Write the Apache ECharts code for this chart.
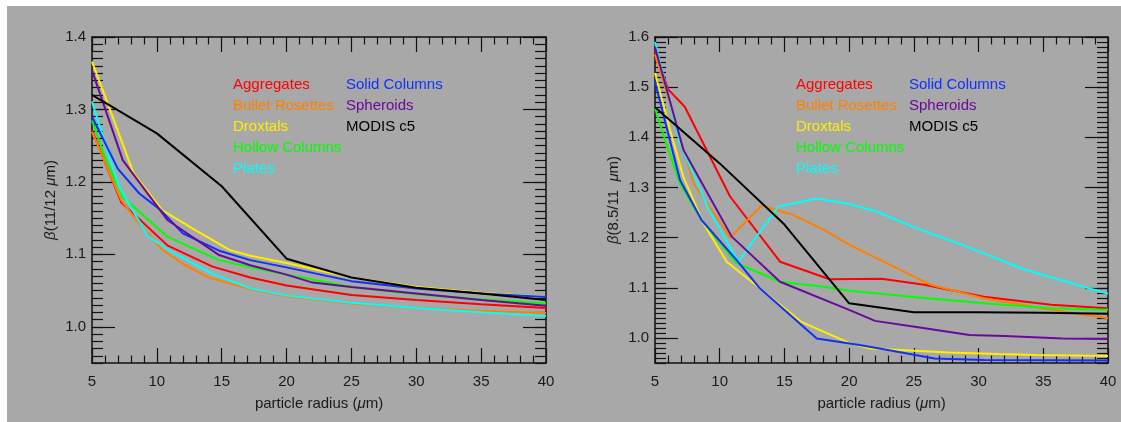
<!DOCTYPE html>
<html><head><meta charset="utf-8">
<script src="https://cdn.jsdelivr.net/npm/echarts@6/dist/echarts.min.js"></script>
<style>html,body{margin:0;padding:0;background:#fff;}#c{width:1121px;height:422px;}</style>
</head><body><div id="c"></div>
<script>
// ---------- data ----------
const seriesNames = ['Aggregates','Bullet Rosettes','Droxtals','Hollow Columns','Plates','Solid Columns','Spheroids','MODIS c5'];
const xTickValues = [5,10,15,20,25,30,35,40];
const yMajorLeft = [1.0,1.1,1.2,1.3,1.4];
const yMajorRight = [1.0,1.1,1.2,1.3,1.4,1.5,1.6];

// left panel: beta(11/12 um)
const L_aggregates = [[5,1.271],[7.25,1.172],[10.84,1.112],[14.3,1.083],[17.2,1.068],[20,1.057],[25,1.044],[30,1.037],[35,1.031],[40,1.026]];
const L_bullet = [[5,1.269],[7.25,1.175],[8.5,1.145],[10.45,1.106],[12,1.087],[14,1.068],[17.2,1.052],[20,1.042],[25,1.032],[30,1.026],[35,1.022],[40,1.019]];
const L_droxtals = [[5,1.366],[6.4,1.299],[8.2,1.212],[10.4,1.161],[13,1.133],[15.6,1.106],[17.2,1.098],[20,1.088],[25,1.068],[30,1.055],[35,1.047],[40,1.041]];
const L_hollow = [[5,1.285],[6,1.234],[7.37,1.179],[10.84,1.124],[14.8,1.092],[17.2,1.082],[20,1.072],[25,1.055],[30,1.045],[35,1.038],[40,1.032]];
const L_plates = [[5,1.311],[6.1,1.248],[7.1,1.193],[9.3,1.125],[11,1.105],[14.3,1.073],[17.2,1.053],[20,1.043],[25,1.033],[30,1.026],[35,1.020],[40,1.015]];
const L_solid = [[5,1.29],[7,1.218],[8.65,1.184],[10.3,1.161],[12,1.129],[14.8,1.105],[17.2,1.092],[20,1.082],[25,1.063],[30,1.053],[35,1.046],[40,1.041]];
const L_spheroids = [[5,1.354],[7.37,1.23],[10.84,1.147],[14.8,1.099],[17.2,1.085],[20,1.072],[22,1.061],[25,1.055],[30,1.046],[35,1.037],[40,1.029]];
const L_modis = [[5,1.320],[10,1.267],[15,1.194],[20,1.094],[25,1.068],[30,1.054],[35,1.046],[40,1.037]];

// right panel: beta(8.5/11 um)
const R_aggregates = [[5,1.572],[6,1.496],[7.3,1.461],[10.8,1.282],[14.66,1.152],[18.5,1.117],[22.5,1.118],[25.8,1.106],[30.4,1.082],[35.6,1.066],[40,1.059]];
const R_bullet = [[5,1.565],[8,1.308],[10.8,1.200],[13.24,1.264],[15.7,1.245],[18.1,1.215],[20,1.186],[23.2,1.145],[26.3,1.106],[30.4,1.079],[35.6,1.056],[40,1.039]];
const R_droxtals = [[5,1.528],[6.16,1.415],[7.19,1.321],[8.73,1.229],[10.54,1.152],[13.1,1.099],[16.3,1.032],[20,0.990],[21.6,0.979],[23.9,0.976],[27.7,0.971],[31.6,0.968],[34.4,0.966],[40,0.964]];
const R_hollow = [[5,1.458],[5.77,1.395],[6.93,1.308],[8.6,1.235],[11.31,1.149],[14.66,1.112],[18,1.102],[20,1.094],[25.2,1.081],[30.4,1.069],[35.6,1.059],[40,1.056]];
const R_plates = [[5,1.59],[6.93,1.388],[9.18,1.255],[11.44,1.152],[14.53,1.262],[17.5,1.278],[20,1.267],[22.1,1.252],[25.2,1.219],[29.1,1.182],[33.5,1.137],[38.1,1.102],[40,1.088]];
const R_solid = [[5,1.511],[6.93,1.315],[8.6,1.235],[11.31,1.155],[13.1,1.099],[17.5,0.999],[20.8,0.986],[23.2,0.975],[26.6,0.959],[30.4,0.956],[40,0.955]];
const R_spheroids = [[5,1.58],[7.19,1.375],[10.93,1.202],[14.66,1.112],[20,1.056],[22,1.034],[25.2,1.022],[29.3,1.006],[32,1.004],[36.5,0.999],[40,0.998]];
const R_modis = [[5,1.46],[10,1.348],[15,1.226],[20,1.069],[25,1.051],[30,1.051],[35,1.050],[40,1.048]];

const leftData = [L_aggregates,L_bullet,L_droxtals,L_hollow,L_plates,L_solid,L_spheroids,L_modis];
const rightData = [R_aggregates,R_bullet,R_droxtals,R_hollow,R_plates,R_solid,R_spheroids,R_modis];

// ---------- style ----------
const colors = ['#ff0000','#ff8000','#ffee00','#00ff00','#00ffff','#1030ff','#6a0a9a','#000000'];
const FONT = "'Liberation Sans', Arial, sans-serif";
const AX = '#111';

function xAxes(gridIndex) {
  const base = {
    type:'value', gridIndex, min:5, max:40, interval:5,
    axisLine:{show:true, onZero:false, lineStyle:{color:AX, width:1.5}},
    axisTick:{show:true, inside:true, length:15, lineStyle:{color:AX, width:1.2}},
    minorTick:{show:true, splitNumber:5, length:7.5, lineStyle:{color:AX, width:1.2}},
    splitLine:{show:false}
  };
  return [
    Object.assign({}, base, {position:'bottom',
      axisLabel:{fontSize:15, color:'#1a1a1a', margin:11, fontFamily:FONT},
      name:'particle radius ({i|μ}m)', nameLocation:'middle', nameGap:33,
      nameTextStyle:{fontSize:15, color:'#1a1a1a', fontFamily:FONT, rich:{i:{fontStyle:'italic', fontSize:15, fontFamily:FONT, color:'#1a1a1a'}}}}),
    Object.assign({}, base, {position:'top', axisLabel:{show:false}})
  ];
}
function isMajor(v){ return Math.abs(v*10 - Math.round(v*10)) < 1e-6; }
function yAxes(gridIndex, max, majors, name) {
  const common = {type:'value', gridIndex, min:0.95, max, splitLine:{show:false}};
  const minor = Object.assign({}, common, {interval:0.01,
    axisLine:{show:true, onZero:false, lineStyle:{color:AX, width:1.5}},
    axisTick:{show:true, inside:true, length:11, lineStyle:{color:AX, width:1.2}}});
  const major = Object.assign({}, common, {
    axisLine:{show:false},
    axisTick:{show:true, inside:true, length:23, customValues:majors, lineStyle:{color:AX, width:1.2}},
    axisLabel:{show:false}});
  return [
    Object.assign({}, minor, {position:'left',
      axisLabel:{fontSize:15, color:'#1a1a1a', margin:6, fontFamily:FONT,
        formatter:v => isMajor(v) ? v.toFixed(1) : ''},
      name, nameLocation:'middle', nameGap:34,
      nameTextStyle:{fontSize:15, color:'#1a1a1a', fontFamily:FONT, rich:{i:{fontStyle:'italic', fontSize:15, fontFamily:FONT, color:'#1a1a1a'}}}}),
    Object.assign({}, major, {position:'left'}),
    Object.assign({}, minor, {position:'right', axisLabel:{show:false}}),
    Object.assign({}, major, {position:'right'})
  ];
}

const series = [];
leftData.forEach((d,i) => series.push({name:seriesNames[i], type:'line', xAxisIndex:0, yAxisIndex:0, data:d,
  symbol:'none', lineStyle:{color:colors[i], width:2}, itemStyle:{color:colors[i]}, z:2+i*0.01}));
rightData.forEach((d,i) => series.push({name:seriesNames[i], type:'line', xAxisIndex:2, yAxisIndex:4, data:d,
  symbol:'none', lineStyle:{color:colors[i], width:2}, itemStyle:{color:colors[i]}, z:2+i*0.01}));

// legend-like labels
const legendCols = [[233,346],[796,909]];
const graphics = [{type:'rect', silent:true, z:-100, shape:{x:7,y:6,width:1114,height:416}, style:{fill:'#a8a8a8'}}];
legendCols.forEach(cols => {
  seriesNames.forEach((n,i) => {
    const col = i < 5 ? 0 : 1;
    const row = i < 5 ? i : i - 5;
    graphics.push({type:'text', silent:true, z:10, x:cols[col], y:85 + row*21,
      style:{text:n, fill:colors[i], font:"15px " + FONT, verticalAlign:'middle', align:'left'}});
  });
});

const option = {
  animation:false,
  backgroundColor:'#ffffff',
  grid:[{left:92, top:37, width:454, height:326}, {left:655, top:37, width:453, height:326}],
  xAxis:[...xAxes(0), ...xAxes(1)],
  yAxis:[...yAxes(0, 1.4, yMajorLeft, '{i|β}(11/12 {i|μ}m)'), ...yAxes(1, 1.6, yMajorRight, '{i|β}(8.5/11  {i|μ}m)')],
  series,
  graphic:graphics
};
const chart = echarts.init(document.getElementById('c'), null, {renderer:'canvas'});
chart.setOption(option);
</script></body></html>
